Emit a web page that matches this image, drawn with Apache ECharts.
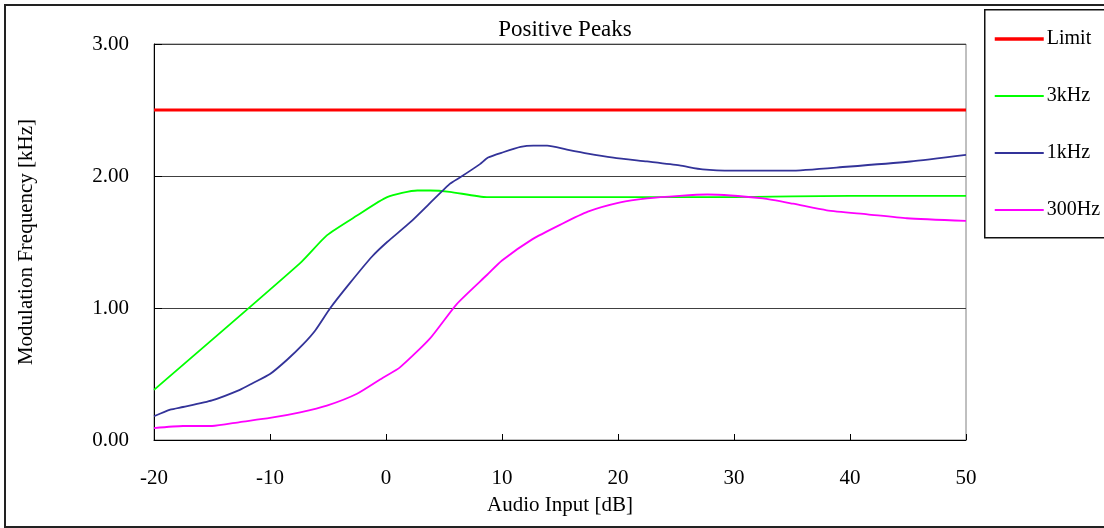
<!DOCTYPE html>
<html>
<head>
<meta charset="utf-8">
<script src="https://cdn.jsdelivr.net/npm/echarts@6/dist/echarts.min.js"></script>
<style>
  html, body { margin: 0; padding: 0; background: #fff; }
  #chart { width: 1104px; height: 528px; }
</style>
</head>
<body>
<div id="chart"></div>
<script>
// Audio input (dB) vs. modulation frequency (kHz)
var limitData = [[-20, 2.5], [50, 2.5]]
var khz3Data = [
  [-20, 0.38], [-7.4, 1.34], [-5.1, 1.55], [-2.5, 1.70], [0.1, 1.84],
  [2.7, 1.89], [3.8, 1.89], [5.5, 1.88], [8.7, 1.84], [20, 1.84],
  [30, 1.84], [40, 1.85], [50, 1.85]
]
var khz1Data = [
  [-20, 0.18], [-18.6, 0.23], [-17.5, 0.25], [-15, 0.30], [-12.6, 0.38],
  [-11.5, 0.43], [-10, 0.50], [-8.5, 0.61], [-7.2, 0.72], [-6.1, 0.83],
  [-4.8, 1.00], [-3.1, 1.19], [-1.2, 1.39], [0.1, 1.50], [2.1, 1.65],
  [5.5, 1.94], [6.4, 1.99], [8.1, 2.09], [8.8, 2.14], [10.1, 2.18],
  [11.6, 2.22], [12.7, 2.23], [13.9, 2.23], [15.6, 2.20], [17.4, 2.17],
  [19.6, 2.14], [22.5, 2.11], [25.3, 2.08], [27.3, 2.05], [29.9, 2.04],
  [34.8, 2.04], [39.7, 2.07], [45.2, 2.11], [50, 2.16]
]
var hz300Data = [
  [-20, 0.09], [-17.5, 0.106], [-15, 0.106], [-12.6, 0.136], [-10, 0.167],
  [-7.4, 0.21], [-5.1, 0.26], [-2.5, 0.35], [-0.3, 0.47], [1.2, 0.55],
  [3.8, 0.77], [6.1, 1.03], [8.7, 1.25], [10, 1.36], [12.6, 1.52],
  [15, 1.63], [17.4, 1.73], [20.2, 1.80], [22.5, 1.83], [25.3, 1.85],
  [27.7, 1.86], [32.5, 1.83], [35.1, 1.79], [38, 1.74], [41.5, 1.71],
  [44.9, 1.68], [50, 1.66]
]
var seriesNames = ['Limit', '3kHz', '1kHz', '300Hz']

var font = '"Liberation Serif", "Times New Roman", serif'
var chart = echarts.init(document.getElementById('chart'))
chart.setOption({
  backgroundColor: '#ffffff',
  animation: false,
  textStyle: { fontFamily: font, color: '#000' },
  title: {
    text: 'Positive Peaks',
    left: 560,
    textAlign: 'center',
    top: 13,
    textStyle: { fontFamily: font, fontWeight: 'normal', fontSize: 23, color: '#000' }
  },
  graphic: [
    {
      type: 'rect', left: 4, top: 4, z: -1,
      shape: { width: 1110, height: 522 },
      style: { fill: '#fff', stroke: '#222', lineWidth: 2 }
    },
    {
      type: 'rect', left: 984, top: 9, z: 10,
      shape: { width: 130, height: 228 },
      style: { fill: '#fff', stroke: '#111', lineWidth: 1.5 }
    }
  ],
  legend: {
    data: [
      { name: seriesNames[0], lineStyle: { width: 3.5 } },
      { name: seriesNames[1], lineStyle: { width: 2 } },
      { name: seriesNames[2], lineStyle: { width: 2 } },
      { name: seriesNames[3], lineStyle: { width: 2 } }
    ],
    orient: 'vertical',
    left: 993,
    top: 29,
    padding: 0,
    itemWidth: 49,
    itemHeight: 14,
    itemGap: 37,
    z: 20,
    itemStyle: { opacity: 0 },
    textStyle: { fontFamily: font, fontSize: 20, color: '#000', padding: [0, 0, 0, -2] }
  },
  grid: {
    left: 154,
    right: 138,
    top: 44,
    bottom: 88,
    show: true,
    borderColor: '#808080',
    borderWidth: 1
  },
  xAxis: {
    type: 'value',
    min: -20,
    max: 50,
    interval: 10,
    name: 'Audio Input [dB]',
    nameLocation: 'middle',
    nameGap: 55,
    nameTextStyle: { fontFamily: font, fontSize: 21, color: '#000' },
    axisLine: { onZero: false, lineStyle: { color: '#000', width: 1 } },
    axisTick: { inside: true, length: 6, lineStyle: { color: '#000' } },
    axisLabel: { fontFamily: font, fontSize: 21, color: '#000', margin: 28 },
    splitLine: { show: false }
  },
  yAxis: {
    type: 'value',
    min: 0,
    max: 3,
    interval: 1,
    name: 'Modulation Frequency [kHz]',
    nameLocation: 'middle',
    nameGap: 117,
    nameTextStyle: { fontFamily: font, fontSize: 21, color: '#000' },
    axisLine: { show: true, onZero: false, lineStyle: { color: '#000', width: 1 } },
    axisTick: { show: true, inside: true, length: 8, lineStyle: { color: '#000' } },
    axisLabel: {
      fontFamily: font, fontSize: 21, color: '#000', margin: 25,
      formatter: function (v) { return v.toFixed(2) }
    },
    splitLine: { show: true, lineStyle: { color: '#404040', width: 1 } }
  },
  series: [
    {
      name: 'Limit', type: 'line', data: limitData, symbol: 'none',
      lineStyle: { color: '#ff0000', width: 3 }, itemStyle: { color: '#ff0000' }
    },
    {
      name: '3kHz', type: 'line', data: khz3Data, symbol: 'none', smooth: 0.2,
      lineStyle: { color: '#00ff00', width: 1.8 }, itemStyle: { color: '#00ff00' }
    },
    {
      name: '1kHz', type: 'line', data: khz1Data, symbol: 'none', smooth: 0.2,
      lineStyle: { color: '#333399', width: 1.8 }, itemStyle: { color: '#333399' }
    },
    {
      name: '300Hz', type: 'line', data: hz300Data, symbol: 'none', smooth: 0.2,
      lineStyle: { color: '#ff00ff', width: 1.8 }, itemStyle: { color: '#ff00ff' }
    }
  ]
})
</script>
</body>
</html>
